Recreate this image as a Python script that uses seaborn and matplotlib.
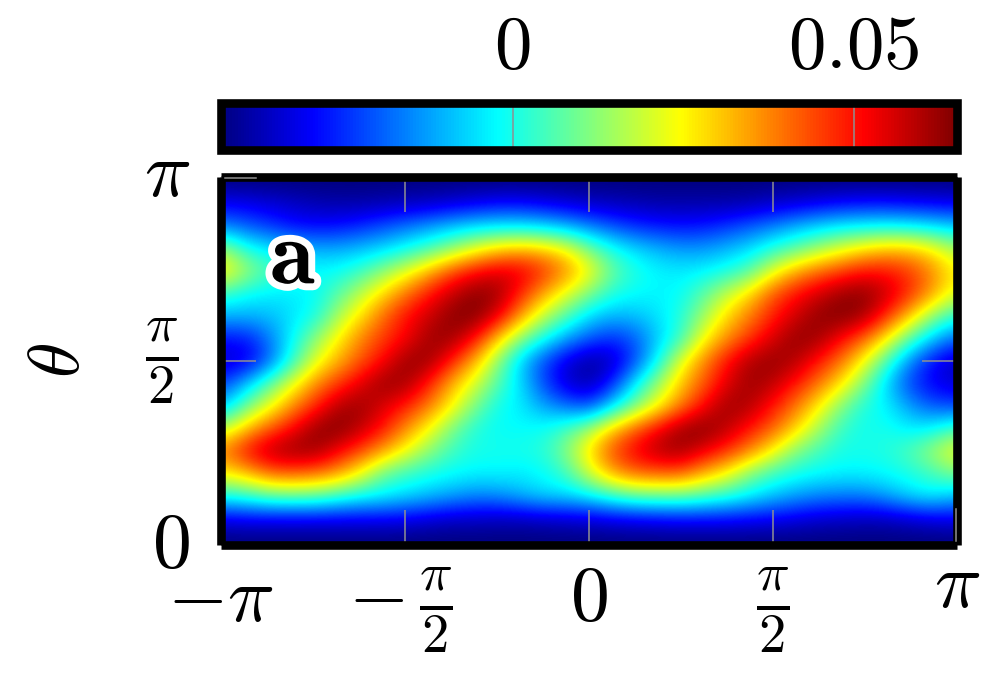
import seaborn as sns
import matplotlib.pyplot as plt
import matplotlib.patheffects as pe
from matplotlib.colors import LinearSegmentedColormap
from matplotlib.transforms import ScaledTranslation
import numpy as np

plt.rcParams['mathtext.fontset'] = 'cm'

W, H = 1005, 678

# values, in units of 0.001
# rows run from theta = pi down to 0, columns from phi = -pi to pi
density = [
    [-43, -43, -43, -43, -43, -43, -43, -43, -43, -43, -43, -43, -43, -43, -43, -43, -43, -43, -43, -43, -43, -43, -43, -43, -43, -43, -43, -43, -43, -43, -43, -43, -43],
    [-30, -31, -33, -35, -37, -38, -38, -37, -36, -35, -33, -31, -29, -29, -31, -33, -35, -36, -37, -38, -38, -38, -38, -37, -35, -33, -31, -29, -28, -28, -29, -30, -31],
    [-16, -20, -24, -28, -29, -28, -25, -21, -17, -13, -9, -6, -5, -5, -7, -11, -16, -21, -25, -27, -28, -27, -24, -20, -16, -11, -7, -4, -3, -2, -3, -5, -8],
    [14, 0, -4, -8, -11, -11, -9, -6, -1, 5, 13, 22, 29, 32, 30, 24, 10, 0, -6, -10, -13, -13, -10, -6, 1, 7, 14, 21, 27, 31, 31, 26, 16],
    [27, 14, 6, 1, -2, -1, 4, 13, 22, 33, 44, 51, 55, 54, 47, 37, 25, 9, 1, -3, -4, -3, 0, 6, 21, 33, 40, 45, 50, 50, 46, 38, 26],
    [3, -2, -4, -4, -2, 7, 18, 29, 40, 50, 58, 64, 62, 48, 34, 22, 11, 1, -2, -3, -2, 7, 18, 28, 42, 50, 56, 62, 64, 58, 48, 36, 22],
    [-10, -10, -9, -5, 0, 16, 28, 41, 51, 57, 64, 65, 54, 35, 18, 6, -6, -10, -9, -5, 1, 14, 28, 38, 48, 56, 63, 65, 62, 48, 32, 14, 2],
    [-28, -27, -16, -2, 13, 26, 38, 46, 52, 62, 62, 50, 30, 12, -1, -12, -20, -25, -20, -8, 3, 24, 36, 46, 55, 63, 62, 52, 42, 27, 8, -7, -18],
    [-35, -32, -18, 3, 22, 33, 43, 52, 63, 62, 48, 32, 12, -8, -22, -33, -40, -36, -22, -2, 22, 37, 50, 60, 63, 60, 50, 40, 25, 6, -14, -28, -36],
    [-22, -8, 8, 23, 37, 46, 55, 63, 61, 48, 32, 20, 6, -6, -22, -34, -38, -26, -4, 14, 30, 42, 54, 62, 59, 50, 40, 28, 12, -6, -22, -30, -34],
    [-8, 10, 23, 37, 48, 60, 62, 55, 48, 38, 25, 10, -1, -4, -12, -18, -22, -6, 10, 24, 38, 51, 62, 60, 50, 40, 27, 12, 1, -3, -12, -20, -22],
    [18, 32, 43, 52, 63, 65, 58, 49, 36, 24, 10, 1, -2, -2, -1, 5, 15, 30, 42, 52, 62, 65, 59, 50, 42, 30, 16, 4, -1, 0, -4, -3, 5],
    [40, 52, 60, 63, 62, 52, 44, 34, 23, 12, 4, 0, 0, 0, 2, 12, 28, 44, 53, 60, 62, 54, 47, 38, 26, 12, 5, 0, 0, 1, 6, 14, 24],
    [26, 32, 41, 42, 40, 35, 23, 8, 3, 0, -2, -3, -3, -4, -2, 4, 20, 34, 41, 42, 42, 33, 25, 12, 4, 0, -2, -3, -3, -2, 0, 4, 10],
    [0, 3, 8, 9, 8, 3, -1, -3, -6, -9, -12, -15, -14, -10, -6, -6, -3, 3, 8, 9, 9, 6, 2, -3, -8, -12, -15, -16, -16, -12, -6, -3, -8],
    [-31, -30, -30, -30, -30, -30, -30, -30, -31, -33, -35, -35, -36, -36, -35, -34, -33, -31, -30, -29, -28, -28, -28, -29, -30, -32, -34, -35, -36, -36, -34, -32, -31],
    [-43, -43, -43, -43, -43, -43, -43, -43, -43, -43, -43, -43, -43, -43, -43, -43, -43, -43, -43, -43, -43, -43, -43, -43, -43, -43, -43, -43, -43, -43, -43, -43, -43],
]
x_labels = [r'$-\pi$', r'$-\,\frac{\pi}{2}$', r'$0$', r'$\frac{\pi}{2}$', r'$\pi$']
y_labels = [r'$0$', r'$\frac{\pi}{2}$', r'$\pi$']
cbar_ticks = [0, 0.05]
cbar_labels = [r'$0$', r'$0.05$']
vmin, vmax = -0.0428, 0.0651

values = np.array(density) / 1000

# jet with even eighths, as in the reference colorbar
jet8 = LinearSegmentedColormap.from_list('jet8', [
    (0, (0, 0, 0.5)), (1 / 8, (0, 0, 1)), (3 / 8, (0, 1, 1)),
    (5 / 8, (1, 1, 0)), (7 / 8, (1, 0, 0)), (1, (0.5, 0, 0))])


def box(left, top, right, bottom):
    return [left / W, 1 - bottom / H, (right - left) / W, (bottom - top) / H]


def nudge(lab, dx, dy):
    lab.set_transform(lab.get_transform() + ScaledTranslation(dx, dy, fig.dpi_scale_trans))


fig = plt.figure(figsize=(W / 100, H / 100), dpi=100)
ax = fig.add_axes(box(220.5, 177, 957, 545))
cax = fig.add_axes(box(220.5, 103, 957, 150))

sns.heatmap(values, cmap=jet8, vmin=vmin, vmax=vmax, ax=ax, cbar_ax=cax,
            cbar_kws={'orientation': 'horizontal', 'ticks': cbar_ticks},
            xticklabels=False, yticklabels=False)
cbar = ax.collections[0].colorbar

# smooth the cells the way the original image looks
nrows, ncols = values.shape
ax.imshow(values, cmap=jet8, vmin=vmin, vmax=vmax, interpolation='bicubic',
          extent=(0, ncols, nrows, 0), aspect='auto', zorder=1)
x0, x1 = 0.32, ncols - 0.32
y0, y1 = nrows - 0.32, 0.32
ax.set_xlim(x0, x1)
ax.set_ylim(y0, y1)

ax.set_xticks(np.linspace(x0, x1, 5), labels=x_labels, fontsize=56)
ax.set_yticks(np.linspace(y0, y1, 3), labels=y_labels, fontsize=56)
ax.tick_params(top=True, right=True, direction='in', length=25, width=1.1,
               color='#909090')
ax.tick_params(axis='x', pad=15)
ax.tick_params(axis='y', pad=22)
for lab in ax.get_xticklabels():
    lab.set_rotation(0)
for lab in ax.get_yticklabels():
    lab.set_rotation(0)
    lab.set_verticalalignment('center')

# the labels do not share a baseline in the reference
xlabs = ax.get_xticklabels()
nudge(xlabs[0], 0, 0.05)
nudge(xlabs[1], -0.04, 0)
nudge(xlabs[2], 0, 0.06)
nudge(xlabs[4], 0, 0.19)
ylabs = ax.get_yticklabels()
nudge(ylabs[1], -0.12, 0)
nudge(ylabs[2], 0, 0.03)

for sp in ax.spines.values():
    sp.set_visible(True)
    sp.set_color('black')
    sp.set_linewidth(6.2)
    sp.set_capstyle('butt')

# the two end ticks lie on top of the frame
ax.plot([0.006, 0.048], [0.997, 0.997], color='#909090', lw=1.1,
        transform=ax.transAxes, clip_on=False, zorder=5)
ax.plot([0.998, 0.998], [0.011, 0.098], color='#909090', lw=1.1,
        transform=ax.transAxes, clip_on=False, zorder=5)
ax.set_xlim(x0, x1)
ax.set_ylim(y0, y1)

ax.set_ylabel(r'$\theta$', fontsize=52, labelpad=36)

ax.text(0.0985, 0.78, r'$\mathbf{a}$', transform=ax.transAxes, fontsize=66,
        ha='center', va='center', zorder=6,
        path_effects=[pe.withStroke(linewidth=10, foreground='white')])

cbar.outline.set_visible(True)
cbar.outline.set_linewidth(6.2)
cbar.outline.set_edgecolor('black')
cbar.outline.set_zorder(5)
cbar.set_ticks(cbar_ticks, labels=cbar_labels)
cax.xaxis.set_ticks_position('top')
cax.tick_params(axis='x', direction='in', length=34, width=1.1, color='#909090',
                labelsize=54, pad=14)

plt.savefig('out.png', dpi=100)
